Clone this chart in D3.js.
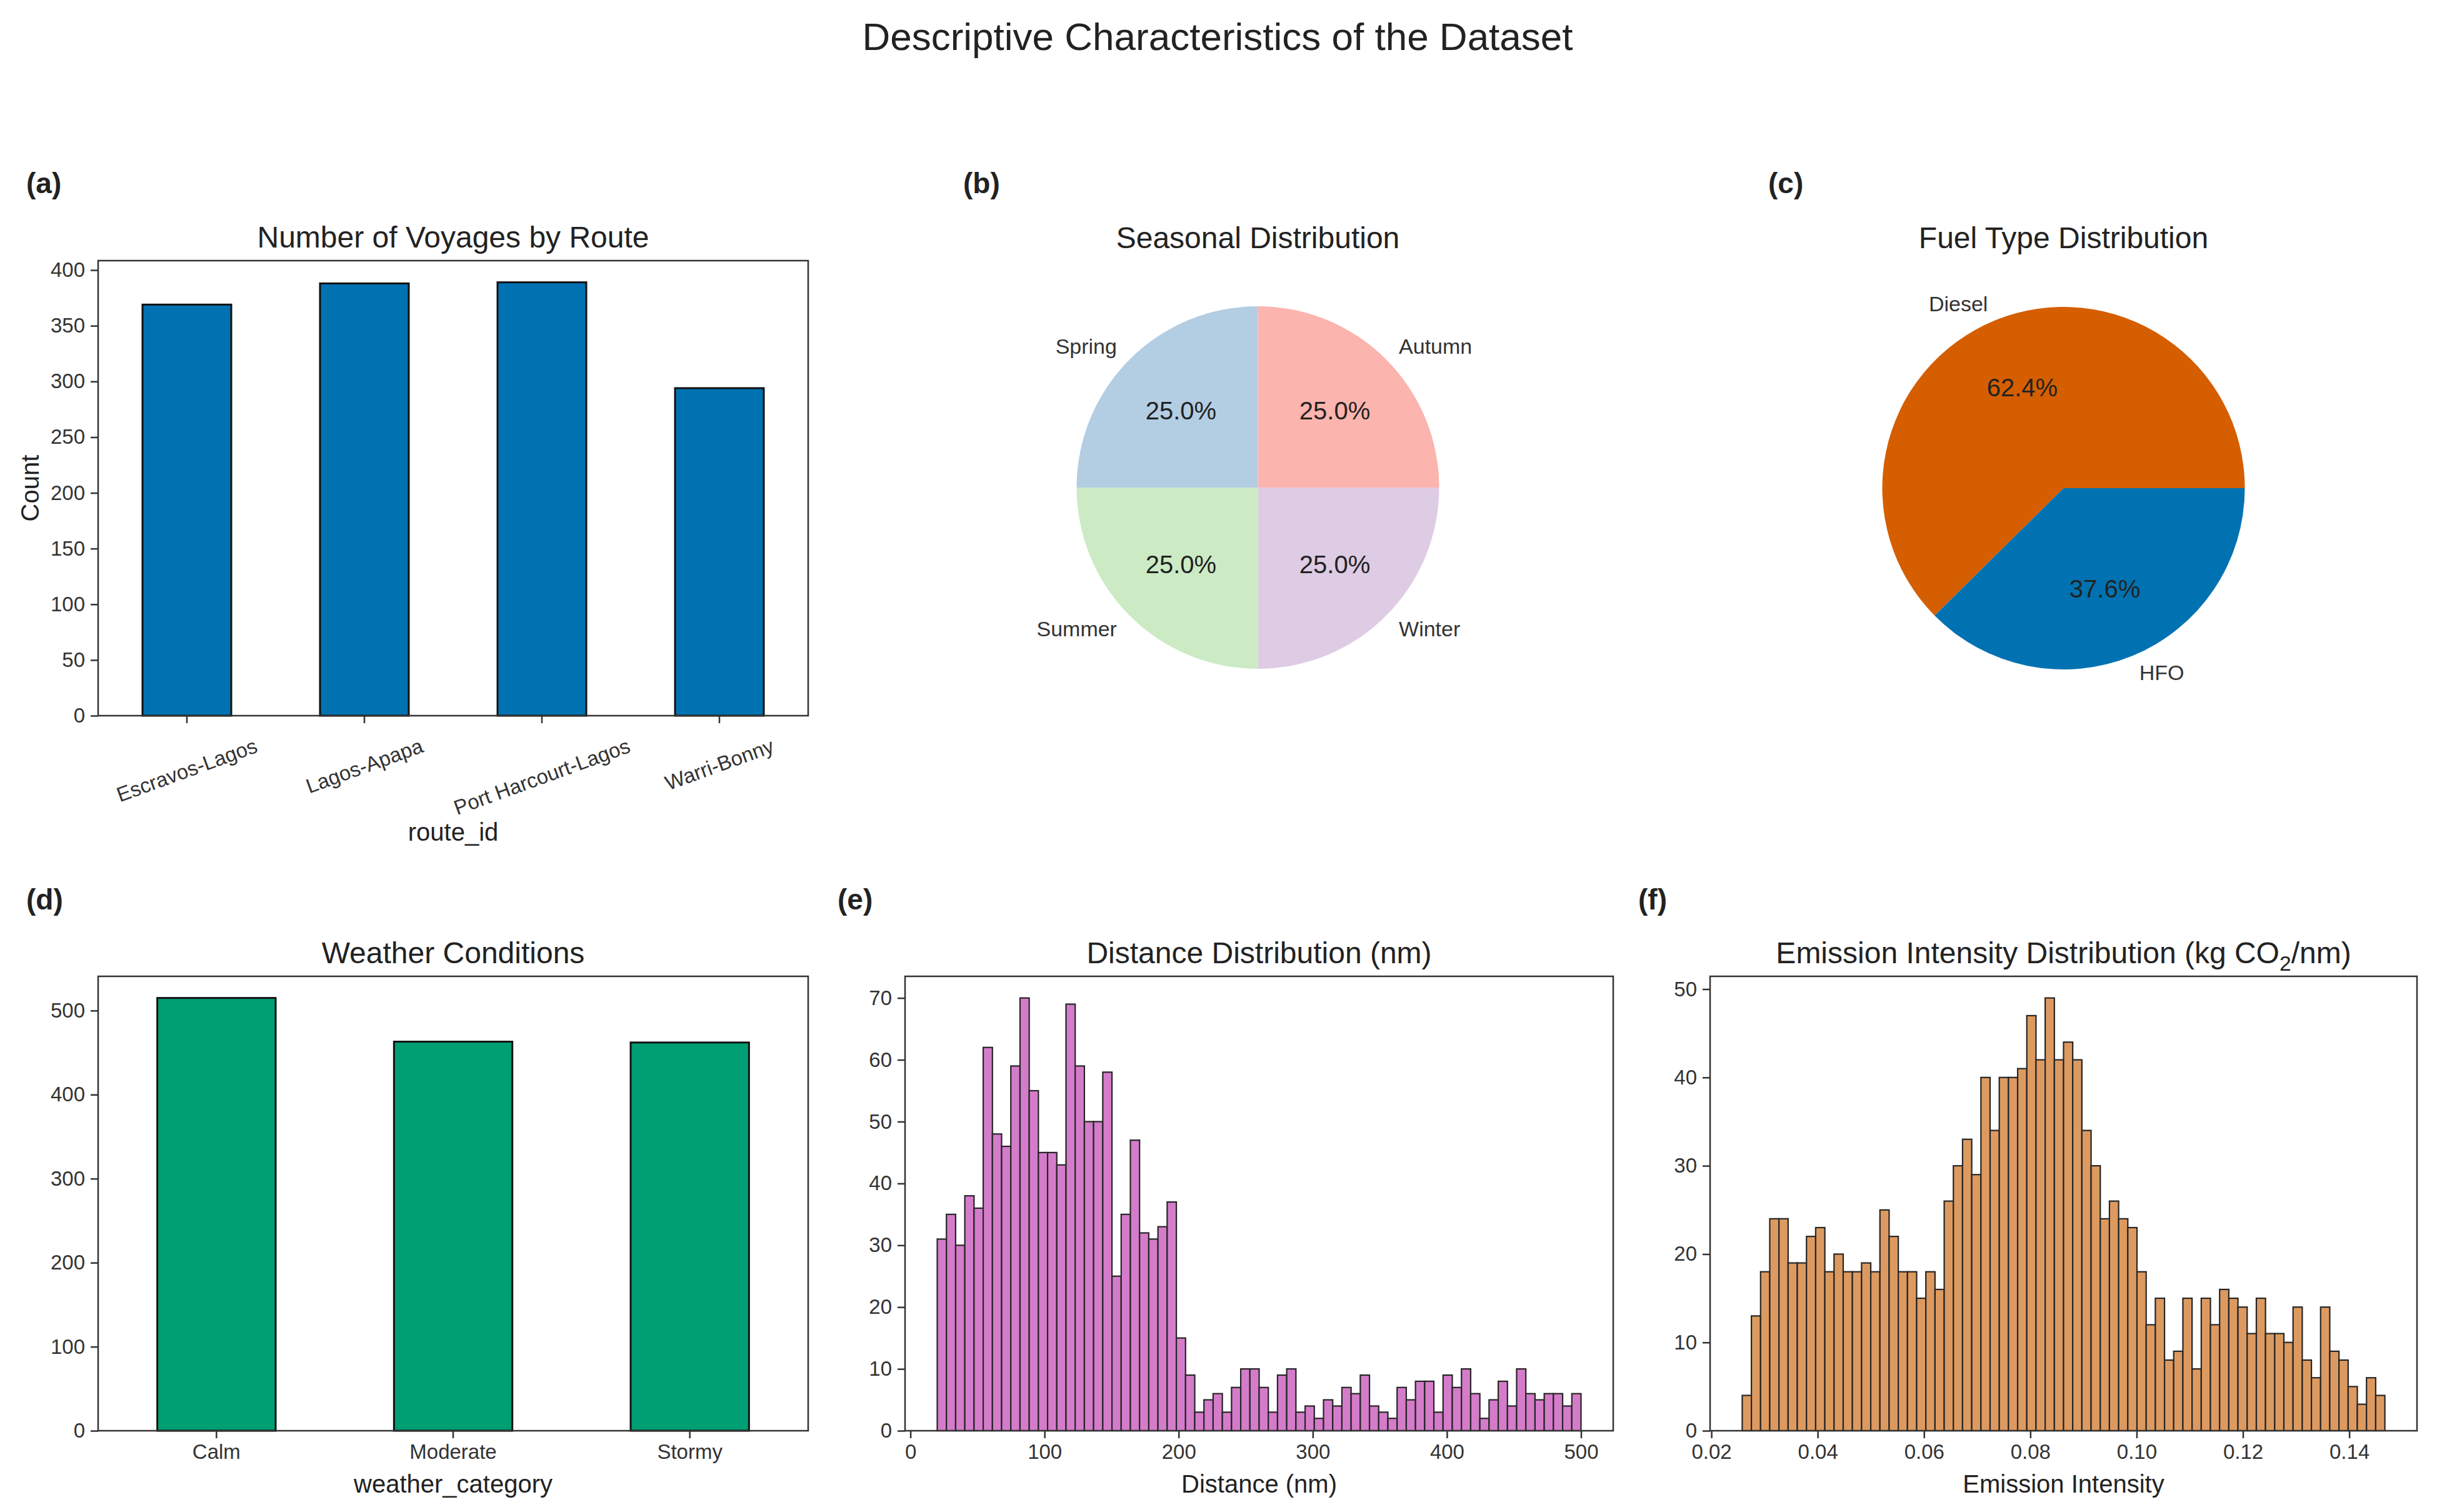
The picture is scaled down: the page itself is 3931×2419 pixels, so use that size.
<!DOCTYPE html>
<html>
<head>
<meta charset="utf-8">
<script src="https://cdn.jsdelivr.net/npm/d3@7"></script>
<style>
  html, body { margin: 0; padding: 0; background: #ffffff; }
  svg { display: block; }
</style>
</head>
<body>
<script>
// ---------------- DATA ----------------
const routes = ["Escravos-Lagos", "Lagos-Apapa", "Port Harcourt-Lagos", "Warri-Bonny"];
const routeCounts = [369, 388, 389, 294];
const routeTicks = [0, 50, 100, 150, 200, 250, 300, 350, 400];

const seasons = ["Autumn", "Spring", "Summer", "Winter"];
const seasonCounts = [360, 360, 360, 360];

const fuels = ["Diesel", "HFO"];
const fuelShares = [62.4, 37.6];

const weatherCats = ["Calm", "Moderate", "Stormy"];
const weatherCounts = [515, 463, 462];
const weatherTicks = [0, 100, 200, 300, 400, 500];

const distanceRange = [20, 500];
const distanceCounts = [31, 35, 30, 38, 36, 62, 48, 46, 59, 70, 55, 45, 45, 43, 69, 59, 50, 50, 58, 25,
  35, 47, 32, 31, 33, 37, 15, 9, 3, 5, 6, 3, 7, 10, 10, 7, 3, 9, 10, 3,
  4, 2, 5, 4, 7, 6, 9, 4, 3, 2, 7, 5, 8, 8, 3, 9, 7, 10, 6, 2,
  5, 8, 4, 10, 6, 5, 6, 6, 4, 6];
const distanceXTicks = [0, 100, 200, 300, 400, 500];
const distanceYTicks = [0, 10, 20, 30, 40, 50, 60, 70];

const emissionRange = [0.0258, 0.1467];
const emissionCounts = [4, 13, 18, 24, 24, 19, 19, 22, 23, 18, 20, 18, 18, 19, 18, 25, 22, 18, 18, 15,
  18, 16, 26, 30, 33, 29, 40, 34, 40, 40, 41, 47, 42, 49, 42, 44, 42, 34, 30, 24,
  26, 24, 23, 18, 12, 15, 8, 9, 15, 7, 15, 12, 16, 15, 14, 11, 15, 11, 11, 10,
  14, 8, 6, 14, 9, 8, 5, 3, 6, 4];
const emissionXTicks = [0.02, 0.04, 0.06, 0.08, 0.10, 0.12, 0.14];
const emissionYTicks = [0, 10, 20, 30, 40, 50];

// ---------------- LAYOUT / STYLE ----------------
const W = 3931, H = 2419;
const FONT = "'Liberation Sans', Arial, Helvetica, sans-serif";
const TXT = "#222";
const AXC = "#333";
const cols = [{ x0: 157, x1: 1293 }, { x0: 1448, x1: 2581 }, { x0: 2736, x1: 3867 }];
const row1 = { y0: 417, y1: 1145 };
const row2 = { y0: 1562, y1: 2289 };
const FS = { title: 62, panel: 48, label: 40, tick: 33, pieLab: 34, piePct: 40, letter: 46 };

const svg = d3.select("body").append("svg")
  .attr("width", W).attr("height", H)
  .attr("viewBox", `0 0 ${W} ${H}`)
  .style("font-family", FONT);
svg.append("rect").attr("width", W).attr("height", H).attr("fill", "#fff");

function text(g, x, y, str, size, anchor, opts = {}) {
  return g.append("text")
    .attr("x", x).attr("y", y)
    .attr("text-anchor", anchor || "middle")
    .attr("font-size", size)
    .attr("font-weight", opts.bold ? "bold" : "normal")
    .attr("fill", opts.fill || TXT)
    .text(str);
}

// main title
text(svg, 1948, 80, "Descriptive Characteristics of the Dataset", FS.title, "middle");

// panel letters
[["(a)", 42, 309], ["(b)", 1541, 309], ["(c)", 2829, 309],
 ["(d)", 42, 1455], ["(e)", 1340, 1455], ["(f)", 2621, 1455]].forEach(([t, x, y]) =>
  text(svg, x, y, t, FS.letter, "start", { bold: true }));

function styleAxis(g) {
  g.select(".domain").remove();
  g.selectAll(".tick line").attr("stroke", AXC).attr("stroke-width", 2.5);
  g.selectAll(".tick text").attr("font-size", FS.tick).attr("fill", AXC).attr("font-family", FONT);
}

function frame(box, row) {
  svg.append("rect")
    .attr("x", box.x0).attr("y", row.y0)
    .attr("width", box.x1 - box.x0).attr("height", row.y1 - row.y0)
    .attr("fill", "none").attr("stroke", AXC).attr("stroke-width", 2.5);
}

function barPanel(cats, vals, color, box, row, yTicks, rotate, title, xlabel, ylabel, xlabelY) {
  const g = svg.append("g");
  const x = d3.scaleBand().domain(cats).range([box.x0, box.x1]).paddingInner(0.5).paddingOuter(0.25);
  const y = d3.scaleLinear().domain([0, d3.max(vals) * 1.05]).range([row.y1, row.y0]);
  g.selectAll("rect.bar").data(cats).join("rect").attr("class", "bar")
    .attr("x", d => x(d)).attr("width", x.bandwidth())
    .attr("y", (d, i) => y(vals[i])).attr("height", (d, i) => row.y1 - y(vals[i]))
    .attr("fill", color).attr("stroke", "#111").attr("stroke-width", 3);
  const ya = g.append("g").attr("transform", `translate(${box.x0},0)`)
    .call(d3.axisLeft(y).tickValues(yTicks).tickSize(12).tickPadding(9).tickSizeOuter(0));
  styleAxis(ya);
  const xa = g.append("g").attr("transform", `translate(0,${row.y1})`)
    .call(d3.axisBottom(x).tickSize(12).tickPadding(10).tickSizeOuter(0));
  styleAxis(xa);
  if (rotate) {
    const ang = rotate * Math.PI / 180;
    xa.selectAll(".tick text").each(function () {
      const t = d3.select(this);
      const w = this.getComputedTextLength();
      const h = FS.tick * 0.95;
      const half = (w * Math.sin(ang) + h * Math.cos(ang)) / 2;
      t.attr("y", 0).attr("dy", null).attr("dominant-baseline", "central")
        .attr("text-anchor", "middle")
        .attr("transform", `translate(0,${32 + half}) rotate(${-rotate})`);
    });
  }
  frame(box, row);
  const cx = (box.x0 + box.x1) / 2;
  text(svg, cx, row.y0 - 21, title, FS.panel, "middle");
  if (xlabel) text(svg, cx, xlabelY, xlabel, FS.label, "middle");
  if (ylabel) {
    svg.append("text")
      .attr("transform", `translate(62,${(row.y0 + row.y1) / 2}) rotate(-90)`)
      .attr("text-anchor", "middle").attr("font-size", FS.label).attr("fill", TXT)
      .text(ylabel);
  }
}

function histPanel(counts, range, color, box, row, xTicks, yTicks, fmt, titleFn, xlabel) {
  const g = svg.append("g");
  const span = range[1] - range[0];
  const x = d3.scaleLinear().domain([range[0] - 0.05 * span, range[1] + 0.05 * span]).range([box.x0, box.x1]);
  const y = d3.scaleLinear().domain([0, d3.max(counts) * 1.05]).range([row.y1, row.y0]);
  const bw = span / counts.length;
  g.selectAll("rect.bin").data(counts).join("rect").attr("class", "bin")
    .attr("x", (d, i) => x(range[0] + i * bw))
    .attr("width", (d, i) => x(range[0] + (i + 1) * bw) - x(range[0] + i * bw))
    .attr("y", d => y(d)).attr("height", d => row.y1 - y(d))
    .attr("fill", color).attr("stroke", "#262626").attr("stroke-width", 2.2);
  const ya = g.append("g").attr("transform", `translate(${box.x0},0)`)
    .call(d3.axisLeft(y).tickValues(yTicks).tickSize(12).tickPadding(9).tickSizeOuter(0));
  styleAxis(ya);
  const xa = g.append("g").attr("transform", `translate(0,${row.y1})`)
    .call(d3.axisBottom(x).tickValues(xTicks).tickFormat(fmt).tickSize(12).tickPadding(10).tickSizeOuter(0));
  styleAxis(xa);
  frame(box, row);
  const cx = (box.x0 + box.x1) / 2;
  titleFn(cx, row.y0 - 21);
  text(svg, cx, 2388, xlabel, FS.label, "middle");
}

function piePanel(labels, values, colors, cx, cy, r, title, fmtPct) {
  const g = svg.append("g").attr("transform", `translate(${cx},${cy})`);
  const pie = d3.pie().sort(null).startAngle(Math.PI / 2).endAngle(Math.PI / 2 - 2 * Math.PI);
  const arcs = pie(values);
  const arc = d3.arc().innerRadius(0).outerRadius(r);
  const total = d3.sum(values);
  g.selectAll("path").data(arcs).join("path")
    .attr("d", arc).attr("fill", (d, i) => colors[i]);
  arcs.forEach((a, i) => {
    const mid = (a.startAngle + a.endAngle) / 2;
    const lx = 1.1 * r * Math.sin(mid), ly = -1.1 * r * Math.cos(mid);
    g.append("text").attr("x", lx).attr("y", ly)
      .attr("text-anchor", lx > 0 ? "start" : "end")
      .attr("dominant-baseline", "central")
      .attr("font-size", FS.pieLab).attr("fill", "#333").text(labels[i]);
    const px = 0.6 * r * Math.sin(mid), py = -0.6 * r * Math.cos(mid);
    g.append("text").attr("x", px).attr("y", py)
      .attr("text-anchor", "middle").attr("dominant-baseline", "central")
      .attr("font-size", FS.piePct).attr("fill", TXT)
      .text(fmtPct(values[i] / total * 100));
  });
  text(svg, cx, 397, title, FS.panel, "middle");
}

// (a)
barPanel(routes, routeCounts, "#0072b2", cols[0], row1, routeTicks, 20,
  "Number of Voyages by Route", "route_id", "Count", 1345);

// (b)
const pctFmt = v => d3.format(".1f")(v) + "%";
piePanel(seasons, seasonCounts, d3.schemePastel1.slice(0, 4),
  (cols[1].x0 + cols[1].x1) / 2 - 2, 780, 290, "Seasonal Distribution", pctFmt);

// (c)
piePanel(fuels, fuelShares, ["#d55e00", "#0072b2"],
  (cols[2].x0 + cols[2].x1) / 2, 781, 290, "Fuel Type Distribution", pctFmt);

// (d)
barPanel(weatherCats, weatherCounts, "#009e73", cols[0], row2, weatherTicks, 0,
  "Weather Conditions", "weather_category", null, 2388);

// (e)
histPanel(distanceCounts, distanceRange, "#d47cca", cols[1], row2, distanceXTicks, distanceYTicks,
  d3.format("d"),
  (cx, y) => text(svg, cx, y, "Distance Distribution (nm)", FS.panel, "middle"),
  "Distance (nm)");

// (f)
histPanel(emissionCounts, emissionRange, "#dd9a60", cols[2], row2, emissionXTicks, emissionYTicks,
  d3.format(".2f"),
  (cx, y) => {
    const t = svg.append("text").attr("x", cx).attr("y", y).attr("text-anchor", "middle")
      .attr("font-size", FS.panel).attr("fill", TXT);
    t.append("tspan").text("Emission Intensity Distribution (kg CO");
    t.append("tspan").attr("font-size", FS.panel * 0.7).attr("dy", 12).text("2");
    t.append("tspan").attr("dy", -12).text("/nm)");
  },
  "Emission Intensity");
</script>
</body>
</html>
